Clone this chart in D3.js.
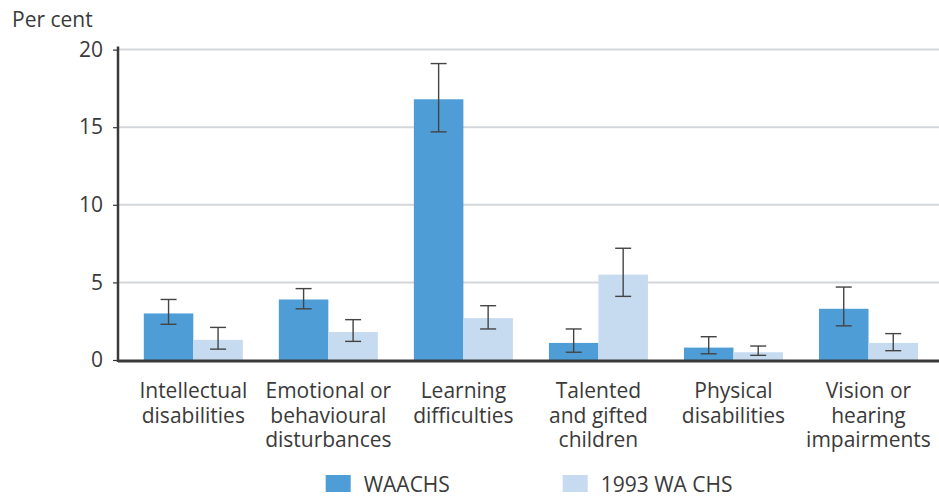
<!DOCTYPE html>
<html><head><meta charset="utf-8">
<script src="https://cdn.jsdelivr.net/npm/d3@7"></script>
<style>body{margin:0;background:#fff;} text{font-family:"Open Sans","Noto Sans",sans-serif;fill:#3a3a3a;}</style>
</head><body><svg id="c" width="939" height="497"></svg>
<script>
const categories = [["Intellectual","disabilities"],["Emotional or","behavioural","disturbances"],["Learning","difficulties"],["Talented","and gifted","children"],["Physical","disabilities"],["Vision or","hearing","impairments"]];
const seriesNames = ["WAACHS","1993 WA CHS"];
const waachs = [3.0, 3.9, 16.8, 1.1, 0.8, 3.3];
const waachsLow = [2.3, 3.3, 14.7, 0.5, 0.4, 2.2];
const waachsHigh = [3.9, 4.6, 19.1, 2.0, 1.5, 4.7];
const chs1993 = [1.3, 1.8, 2.7, 5.5, 0.5, 1.1];
const chs1993Low = [0.7, 1.2, 2.0, 4.1, 0.3, 0.6];
const chs1993High = [2.1, 2.6, 3.5, 7.2, 0.9, 1.7];
const yTicks = [0, 5, 10, 15, 20];
const colors = ["#4f9dd6", "#c6dbf0"];

const FS = 21;
const svg = d3.select("#c");
const ids = categories.map((d,i)=>i);
const x0 = d3.scaleBand().domain(ids).range([125.8, 936]).paddingInner(0.2667).paddingOuter(0.1333);
const x1 = d3.scaleBand().domain([0,1]).range([0, x0.bandwidth()]);
const y = d3.scaleLinear().domain([0, 20]).range([360, 49.6]);

// gridlines
svg.append("g").selectAll("line").data(yTicks.filter(t=>t>0)).join("line")
  .attr("x1", 118).attr("x2", 939).attr("y1", d=>y(d)).attr("y2", d=>y(d))
  .attr("stroke", "#d3d6da").attr("stroke-width", 2);

// y axis
const yAxis = svg.append("g").attr("transform","translate(118,0)")
  .call(d3.axisLeft(y).tickValues(yTicks).tickSize(5).tickPadding(10));
yAxis.select(".domain").remove();
yAxis.selectAll(".tick line").attr("stroke","#333").attr("stroke-width",1.2);
yAxis.selectAll(".tick text").attr("font-size", FS).attr("fill","#3a3a3a").style("font-family","'Open Sans',sans-serif");
svg.append("line").attr("x1",118).attr("x2",118).attr("y1",y(20)-3).attr("y2",362)
  .attr("stroke","#3a3a3a").attr("stroke-width",2.5);

svg.append("text").attr("x", 12).attr("y", 27).attr("font-size", FS).text("Per cent");

const data = [
  {vals: waachs, lo: waachsLow, hi: waachsHigh},
  {vals: chs1993, lo: chs1993Low, hi: chs1993High}
];

data.forEach((s, si) => {
  svg.append("g").selectAll("rect").data(ids).join("rect")
    .attr("x", i => x0(i) + x1(si))
    .attr("width", x1.bandwidth())
    .attr("y", i => y(s.vals[i]))
    .attr("height", i => y(0) - y(s.vals[i]))
    .attr("fill", colors[si]);
});

data.forEach((s, si) => {
  const g = svg.append("g").attr("stroke", "#444").attr("stroke-width", 1.4);
  ids.forEach(i => {
    const cx = x0(i) + x1(si) + x1.bandwidth()/2;
    g.append("line").attr("x1",cx).attr("x2",cx).attr("y1",y(s.hi[i])).attr("y2",y(s.lo[i]));
    g.append("line").attr("x1",cx-8).attr("x2",cx+8).attr("y1",y(s.hi[i])).attr("y2",y(s.hi[i]));
    g.append("line").attr("x1",cx-8).attr("x2",cx+8).attr("y1",y(s.lo[i])).attr("y2",y(s.lo[i]));
  });
});

// x axis line
svg.append("line").attr("x1",118).attr("x2",939).attr("y1",361).attr("y2",361)
  .attr("stroke","#3a3a3a").attr("stroke-width",3);

// category labels
ids.forEach(i => {
  const t = svg.append("text").attr("text-anchor","middle").attr("font-size", FS)
    .attr("x", x0(i) + x0.bandwidth()/2).attr("y", 398);
  categories[i].forEach((ln, k) => {
    t.append("tspan").attr("x", x0(i) + x0.bandwidth()/2).attr("dy", k===0 ? 0 : 24.5).text(ln);
  });
});

// legend
const legX = [325.7, 562.7];
seriesNames.forEach((n, si) => {
  svg.append("rect").attr("x", legX[si]).attr("y", 475).attr("width", 25).attr("height", 17).attr("fill", colors[si]);
  svg.append("text").attr("x", legX[si] + 38).attr("y", 492).attr("font-size", FS).text(n);
});
</script></body></html>
